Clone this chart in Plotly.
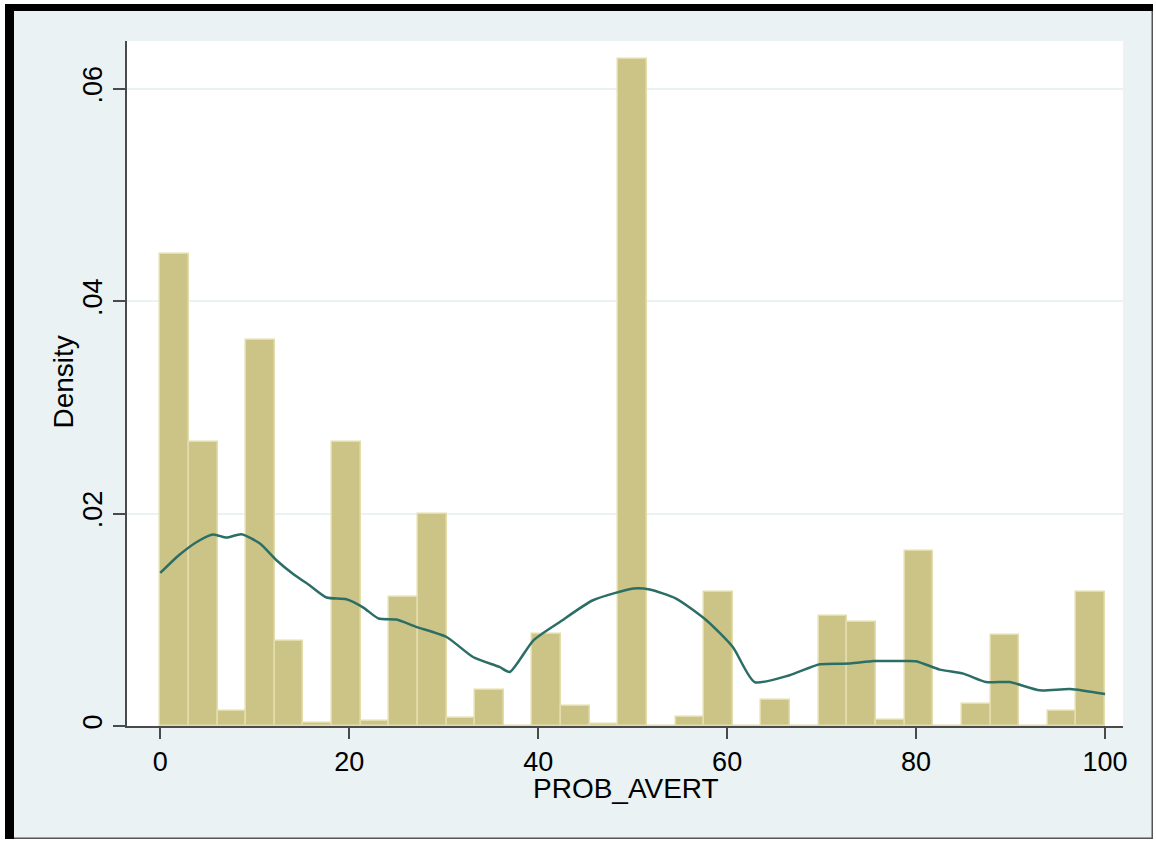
import plotly.graph_objects as go

# ---- data -------------------------------------------------------------
n_bins = 33
bin_start = 0.0
bin_end = 100.0
densities = [0.0444, 0.0267, 0.00141, 0.0363, 0.00804, 0.00025, 0.0267, 0.00047,
             0.01215, 0.0200, 0.00079, 0.00336, 0.0, 0.00867, 0.00188, 0.00023,
             0.0628, 0.0, 0.00085, 0.01262, 0.0, 0.00248, 0.0, 0.01033,
             0.00983, 0.00054, 0.01648, 0.0, 0.00204, 0.00854, 0.0, 0.00141,
             0.01266]

kde_x = [0.0, 2.0, 4.0, 5.6, 7.0, 8.6, 10.55, 12.3, 14.1, 15.8, 17.6, 19.7, 21.5,
         23.1, 25.0, 27.1, 30.3, 33.1, 35.9, 37.0, 39.5, 42.3, 45.8, 50.1, 51.8,
         54.6, 57.8, 60.6, 62.9, 66.6, 69.8, 73.0, 75.5, 78.3, 80.0, 82.5, 85.0,
         87.4, 89.9, 93.1, 96.3, 100.0]
kde_y = [0.01441, 0.01610, 0.01740, 0.01803, 0.01774, 0.01806, 0.01718, 0.01561,
         0.01429, 0.01325, 0.01210, 0.01193, 0.01115, 0.01012, 0.01002, 0.00933,
         0.00838, 0.00650, 0.00556, 0.00509, 0.00807, 0.00980, 0.01184, 0.01294,
         0.01285, 0.01200, 0.00996, 0.00744, 0.00414, 0.00478, 0.00581, 0.00588,
         0.00612, 0.00612, 0.00610, 0.00531, 0.00493, 0.00414, 0.00414, 0.00336,
         0.00349, 0.00301]

x_ticks = [0, 20, 40, 60, 80, 100]
y_ticks = [0, 0.02, 0.04, 0.06]
y_tick_labels = ["0", ".02", ".04", ".06"]
x_title = "PROB_AVERT"
y_title = "Density"

# ---- derived bin geometry --------------------------------------------
bin_width = (bin_end - bin_start) / n_bins
bin_centers = [bin_start + (k + 0.5) * bin_width for k in range(n_bins)]

FONT = "Liberation Sans, Arial, sans-serif"
PANEL = "#EAF2F3"
AXIS = "#4a4a4a"

fig = go.Figure()
fig.add_trace(go.Bar(
    x=bin_centers, y=densities, width=bin_width,
    marker=dict(color="#CCC486", line=dict(color="#E3DDAE", width=1.5)),
    showlegend=False, hoverinfo="x+y",
))
fig.add_trace(go.Scatter(
    x=kde_x, y=kde_y, mode="lines",
    line=dict(color="#2B6E66", width=2.5, shape="spline", smoothing=0.6),
    showlegend=False,
))

W, H = 1156, 841
L, R, T, B = 127, 1123, 41, 726
pw, ph = R - L, B - T


def px(x):
    return (x - L) / pw


def py(y):
    return (B - y) / ph


shapes = []
for (x0, y0, x1, y1, c) in [
    (0, 0, 5, H, "white"),
    (0, 0, W, 4, "white"),
    (1153, 0, W, H, "white"),
    (0, 839, W, H, "white"),
    (5, 4, 14, 839, "black"),
    (5, 4, 1153, 11, "black"),
    (1151.5, 11, 1153, 839, "#555555"),
    (14, 837.5, 1153, 839, "#555555"),
]:
    shapes.append(dict(type="rect", xref="paper", yref="paper",
                       x0=px(x0), x1=px(x1), y0=py(y1), y1=py(y0),
                       fillcolor=c, line=dict(width=0), layer="above"))

annotations = [
    dict(text=x_title, xref="paper", yref="paper", x=px(625.5), y=py(789),
         xanchor="center", yanchor="middle", showarrow=False,
         font=dict(family=FONT, size=28, color="black")),
    dict(text=y_title, xref="paper", yref="paper", x=px(63), y=py(382.5),
         xanchor="center", yanchor="middle", showarrow=False, textangle=-90,
         font=dict(family=FONT, size=28, color="black")),
]

fig.update_layout(
    width=W, height=H,
    margin=dict(l=L, r=W - R, t=T, b=H - B, pad=0),
    paper_bgcolor=PANEL, plot_bgcolor="white",
    bargap=0,
    font=dict(family=FONT, size=27, color="black"),
    shapes=shapes,
    annotations=annotations,
    xaxis=dict(
        range=[-3.52, 101.9], tickvals=x_ticks, ticks="outside", ticklen=11,
        tickwidth=1.5, tickcolor=AXIS, showline=True, linecolor=AXIS, linewidth=1.5,
        showgrid=False, zeroline=False, tickfont=dict(size=27),
    ),
    yaxis=dict(
        range=[0, 0.0645], tickvals=y_ticks, ticktext=y_tick_labels, tickangle=-90,
        ticks="outside", ticklen=12, tickwidth=1.5, tickcolor=AXIS,
        showline=True, linecolor=AXIS, linewidth=1.5,
        showgrid=True, gridcolor=PANEL, gridwidth=2, zeroline=False,
        tickfont=dict(size=27),
    ),
)

fig.write_html(
    "out.html",
    config={"displayModeBar": False},
    post_script="document.body.style.margin='0';document.body.style.overflow='hidden';",
)
